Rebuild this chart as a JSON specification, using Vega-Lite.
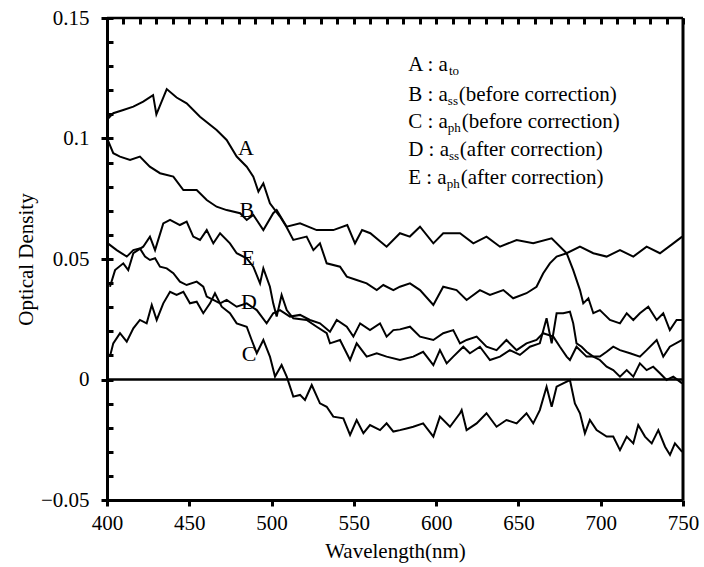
{
  "$schema": "https://vega.github.io/schema/vega-lite/v6.json",
  "width": 576,
  "height": 482,
  "autosize": {"type": "none"},
  "padding": {"left": 107, "top": 18, "right": 21, "bottom": 67},
  "background": "white",
  "datasets": {
    "curves": [
      {"series": "A", "wl": 400, "od": 0.1077}, {"series": "A", "wl": 403.8, "od": 0.1105}, {"series": "A", "wl": 409.9, "od": 0.1118}, {"series": "A", "wl": 416, "od": 0.1132}, {"series": "A", "wl": 422, "od": 0.1153}, {"series": "A", "wl": 428, "od": 0.118}, {"series": "A", "wl": 430, "od": 0.110}, {"series": "A", "wl": 436.3, "od": 0.1205}, {"series": "A", "wl": 442.3, "od": 0.117}, {"series": "A", "wl": 448.4, "od": 0.1146}, {"series": "A", "wl": 456.5, "od": 0.109}, {"series": "A", "wl": 466.6, "od": 0.1035}, {"series": "A", "wl": 472.7, "od": 0.0994}, {"series": "A", "wl": 478.8, "od": 0.0925}, {"series": "A", "wl": 484.9, "od": 0.0883}, {"series": "A", "wl": 488.9, "od": 0.0842}, {"series": "A", "wl": 492, "od": 0.078}, {"series": "A", "wl": 495, "od": 0.0814}, {"series": "A", "wl": 499, "od": 0.0731}, {"series": "A", "wl": 505.1, "od": 0.0676}, {"series": "A", "wl": 509, "od": 0.0634}, {"series": "A", "wl": 513.2, "od": 0.0579}, {"series": "A", "wl": 521.3, "od": 0.0593}, {"series": "A", "wl": 525.4, "od": 0.0537}, {"series": "A", "wl": 529.4, "od": 0.0565}, {"series": "A", "wl": 533.5, "od": 0.0482}, {"series": "A", "wl": 541.6, "od": 0.0468}, {"series": "A", "wl": 545.7, "od": 0.0427}, {"series": "A", "wl": 551.7, "od": 0.0413}, {"series": "A", "wl": 557.8, "od": 0.0399}, {"series": "A", "wl": 563.9, "od": 0.0371}, {"series": "A", "wl": 567.9, "od": 0.0392}, {"series": "A", "wl": 574, "od": 0.0371}, {"series": "A", "wl": 578, "od": 0.0385}, {"series": "A", "wl": 584.1, "od": 0.0399}, {"series": "A", "wl": 590.2, "od": 0.0371}, {"series": "A", "wl": 598.3, "od": 0.0309}, {"series": "A", "wl": 604.3, "od": 0.0385}, {"series": "A", "wl": 612.4, "od": 0.0371}, {"series": "A", "wl": 618.5, "od": 0.033}, {"series": "A", "wl": 626.6, "od": 0.0371}, {"series": "A", "wl": 632.7, "od": 0.0351}, {"series": "A", "wl": 640.8, "od": 0.0371}, {"series": "A", "wl": 646.8, "od": 0.0337}, {"series": "A", "wl": 654.9, "od": 0.0358}, {"series": "A", "wl": 661, "od": 0.0385}, {"series": "A", "wl": 665, "od": 0.044}, {"series": "A", "wl": 669.1, "od": 0.0482}, {"series": "A", "wl": 673.2, "od": 0.051}, {"series": "A", "wl": 679.3, "od": 0.0524}, {"series": "A", "wl": 683.3, "od": 0.0454}, {"series": "A", "wl": 687.4, "od": 0.0371}, {"series": "A", "wl": 689.4, "od": 0.0316}, {"series": "A", "wl": 692.5, "od": 0.0337}, {"series": "A", "wl": 695.5, "od": 0.0275}, {"series": "A", "wl": 699.5, "od": 0.0288}, {"series": "A", "wl": 705.6, "od": 0.0247}, {"series": "A", "wl": 711.7, "od": 0.0233}, {"series": "A", "wl": 715.8, "od": 0.0275}, {"series": "A", "wl": 719.8, "od": 0.0247}, {"series": "A", "wl": 723.8, "od": 0.0275}, {"series": "A", "wl": 728.9, "od": 0.0302}, {"series": "A", "wl": 734, "od": 0.0247}, {"series": "A", "wl": 738, "od": 0.0275}, {"series": "A", "wl": 742, "od": 0.0205}, {"series": "A", "wl": 746.1, "od": 0.0247}, {"series": "A", "wl": 749.5, "od": 0.0247},

      {"series": "B", "wl": 400, "od": 0.1001}, {"series": "B", "wl": 403.8, "od": 0.0939}, {"series": "B", "wl": 407.9, "od": 0.0925}, {"series": "B", "wl": 414, "od": 0.0911}, {"series": "B", "wl": 420, "od": 0.0925}, {"series": "B", "wl": 426, "od": 0.0883}, {"series": "B", "wl": 432.2, "od": 0.0856}, {"series": "B", "wl": 440.3, "od": 0.0842}, {"series": "B", "wl": 446.4, "od": 0.0786}, {"series": "B", "wl": 454.5, "od": 0.0786}, {"series": "B", "wl": 460.6, "od": 0.0745}, {"series": "B", "wl": 466.6, "od": 0.0717}, {"series": "B", "wl": 472.7, "od": 0.0703}, {"series": "B", "wl": 480.9, "od": 0.069}, {"series": "B", "wl": 484.9, "od": 0.0662}, {"series": "B", "wl": 488.9, "od": 0.0683}, {"series": "B", "wl": 495, "od": 0.062}, {"series": "B", "wl": 501, "od": 0.069}, {"series": "B", "wl": 503.1, "od": 0.0703}, {"series": "B", "wl": 509.2, "od": 0.0634}, {"series": "B", "wl": 517.3, "od": 0.0648}, {"series": "B", "wl": 527.4, "od": 0.062}, {"series": "B", "wl": 537.5, "od": 0.062}, {"series": "B", "wl": 546, "od": 0.0641}, {"series": "B", "wl": 550.7, "od": 0.0565}, {"series": "B", "wl": 555, "od": 0.062}, {"series": "B", "wl": 560, "od": 0.0607}, {"series": "B", "wl": 569.9, "od": 0.0551}, {"series": "B", "wl": 578, "od": 0.0607}, {"series": "B", "wl": 584, "od": 0.0593}, {"series": "B", "wl": 590.2, "od": 0.0634}, {"series": "B", "wl": 598.3, "od": 0.0565}, {"series": "B", "wl": 604.3, "od": 0.0607}, {"series": "B", "wl": 614.5, "od": 0.0607}, {"series": "B", "wl": 622.6, "od": 0.0565}, {"series": "B", "wl": 630.6, "od": 0.0593}, {"series": "B", "wl": 638.8, "od": 0.0551}, {"series": "B", "wl": 648.9, "od": 0.0579}, {"series": "B", "wl": 659, "od": 0.0565}, {"series": "B", "wl": 670.2, "od": 0.0586}, {"series": "B", "wl": 679.3, "od": 0.0524}, {"series": "B", "wl": 687.4, "od": 0.0551}, {"series": "B", "wl": 695.5, "od": 0.0524}, {"series": "B", "wl": 703.6, "od": 0.051}, {"series": "B", "wl": 711.7, "od": 0.0537}, {"series": "B", "wl": 719.8, "od": 0.051}, {"series": "B", "wl": 727.9, "od": 0.0551}, {"series": "B", "wl": 736, "od": 0.0524}, {"series": "B", "wl": 744.1, "od": 0.0565}, {"series": "B", "wl": 749.5, "od": 0.0593},

      {"series": "C", "wl": 401.8, "od": 0.0095}, {"series": "C", "wl": 403.8, "od": 0.015}, {"series": "C", "wl": 407.9, "od": 0.0192}, {"series": "C", "wl": 412, "od": 0.0157}, {"series": "C", "wl": 416, "od": 0.0212}, {"series": "C", "wl": 420, "od": 0.0247}, {"series": "C", "wl": 424.1, "od": 0.0233}, {"series": "C", "wl": 427.2, "od": 0.0309}, {"series": "C", "wl": 430.2, "od": 0.0247}, {"series": "C", "wl": 434.2, "od": 0.0316}, {"series": "C", "wl": 438.3, "od": 0.0364}, {"series": "C", "wl": 442.3, "od": 0.0351}, {"series": "C", "wl": 446.4, "od": 0.0364}, {"series": "C", "wl": 450.4, "od": 0.0316}, {"series": "C", "wl": 454.5, "od": 0.0323}, {"series": "C", "wl": 458.5, "od": 0.0275}, {"series": "C", "wl": 462.6, "od": 0.0316}, {"series": "C", "wl": 465.6, "od": 0.0358}, {"series": "C", "wl": 469.7, "od": 0.0302}, {"series": "C", "wl": 474.7, "od": 0.0275}, {"series": "C", "wl": 478.8, "od": 0.0233}, {"series": "C", "wl": 484.9, "od": 0.0219}, {"series": "C", "wl": 487.9, "od": 0.0164}, {"series": "C", "wl": 491, "od": 0.0109}, {"series": "C", "wl": 495, "od": 0.0164}, {"series": "C", "wl": 499, "od": 0.0095}, {"series": "C", "wl": 502.1, "od": 0.0012}, {"series": "C", "wl": 506.1, "od": 0.006}, {"series": "C", "wl": 509.2, "od": 0.0012}, {"series": "C", "wl": 513.2, "od": -0.0071}, {"series": "C", "wl": 517.3, "od": -0.0064}, {"series": "C", "wl": 520.3, "od": -0.0085}, {"series": "C", "wl": 524.4, "od": -0.0023}, {"series": "C", "wl": 529.4, "od": -0.0099}, {"series": "C", "wl": 533.5, "od": -0.0113}, {"series": "C", "wl": 537.5, "od": -0.0154}, {"series": "C", "wl": 543.6, "od": -0.0161}, {"series": "C", "wl": 547.7, "od": -0.023}, {"series": "C", "wl": 551.7, "od": -0.0168}, {"series": "C", "wl": 555.8, "od": -0.0223}, {"series": "C", "wl": 559.8, "od": -0.0189}, {"series": "C", "wl": 565.9, "od": -0.021}, {"series": "C", "wl": 569.9, "od": -0.0182}, {"series": "C", "wl": 574, "od": -0.0216}, {"series": "C", "wl": 578, "od": -0.021}, {"series": "C", "wl": 582.1, "od": -0.0203}, {"series": "C", "wl": 586.1, "od": -0.0196}, {"series": "C", "wl": 592.1, "od": -0.0182}, {"series": "C", "wl": 598.3, "od": -0.0237}, {"series": "C", "wl": 602.3, "od": -0.0154}, {"series": "C", "wl": 608.4, "od": -0.0196}, {"series": "C", "wl": 614.5, "od": -0.014}, {"series": "C", "wl": 615.5, "od": -0.0127}, {"series": "C", "wl": 618.5, "od": -0.021}, {"series": "C", "wl": 624.6, "od": -0.0182}, {"series": "C", "wl": 630.6, "od": -0.014}, {"series": "C", "wl": 636.7, "od": -0.0196}, {"series": "C", "wl": 642.7, "od": -0.0168}, {"series": "C", "wl": 648.9, "od": -0.0182}, {"series": "C", "wl": 654.9, "od": -0.014}, {"series": "C", "wl": 659, "od": -0.0182}, {"series": "C", "wl": 663, "od": -0.0127}, {"series": "C", "wl": 667.1, "od": -0.003}, {"series": "C", "wl": 670.2, "od": -0.0113}, {"series": "C", "wl": 673.2, "od": -0.003}, {"series": "C", "wl": 677.2, "od": -0.0016}, {"series": "C", "wl": 681.3, "od": -0.0002}, {"series": "C", "wl": 684.3, "od": -0.0099}, {"series": "C", "wl": 687.4, "od": -0.014}, {"series": "C", "wl": 690.4, "od": -0.0223}, {"series": "C", "wl": 693.4, "od": -0.0168}, {"series": "C", "wl": 697.5, "od": -0.021}, {"series": "C", "wl": 703.6, "od": -0.0237}, {"series": "C", "wl": 707.6, "od": -0.0237}, {"series": "C", "wl": 711.7, "od": -0.0293}, {"series": "C", "wl": 715.8, "od": -0.0237}, {"series": "C", "wl": 719.8, "od": -0.0265}, {"series": "C", "wl": 722.8, "od": -0.0189}, {"series": "C", "wl": 726.9, "od": -0.0237}, {"series": "C", "wl": 731, "od": -0.0265}, {"series": "C", "wl": 735, "od": -0.021}, {"series": "C", "wl": 739.1, "od": -0.0279}, {"series": "C", "wl": 742.1, "od": -0.0313}, {"series": "C", "wl": 745.1, "od": -0.0265}, {"series": "C", "wl": 749.5, "od": -0.03},

      {"series": "D", "wl": 400.5, "od": 0.0565}, {"series": "D", "wl": 405.9, "od": 0.0537}, {"series": "D", "wl": 412, "od": 0.051}, {"series": "D", "wl": 416, "od": 0.0537}, {"series": "D", "wl": 420, "od": 0.0544}, {"series": "D", "wl": 423.1, "od": 0.051}, {"series": "D", "wl": 426.1, "od": 0.0496}, {"series": "D", "wl": 429.2, "od": 0.0503}, {"series": "D", "wl": 432.2, "od": 0.0468}, {"series": "D", "wl": 436.3, "od": 0.0461}, {"series": "D", "wl": 440.3, "od": 0.0441}, {"series": "D", "wl": 444.3, "od": 0.0406}, {"series": "D", "wl": 448.4, "od": 0.0392}, {"series": "D", "wl": 454.5, "od": 0.0406}, {"series": "D", "wl": 458.5, "od": 0.0385}, {"series": "D", "wl": 460.6, "od": 0.0344}, {"series": "D", "wl": 464.6, "od": 0.033}, {"series": "D", "wl": 468.7, "od": 0.0316}, {"series": "D", "wl": 472.7, "od": 0.033}, {"series": "D", "wl": 478.8, "od": 0.0302}, {"series": "D", "wl": 484.9, "od": 0.0316}, {"series": "D", "wl": 491, "od": 0.0288}, {"series": "D", "wl": 497, "od": 0.0233}, {"series": "D", "wl": 501, "od": 0.0275}, {"series": "D", "wl": 505.1, "od": 0.0288}, {"series": "D", "wl": 511.2, "od": 0.0261}, {"series": "D", "wl": 517.3, "od": 0.0268}, {"series": "D", "wl": 523.3, "od": 0.0247}, {"series": "D", "wl": 529.4, "od": 0.0233}, {"series": "D", "wl": 535.5, "od": 0.0198}, {"series": "D", "wl": 539.6, "od": 0.0247}, {"series": "D", "wl": 545.7, "od": 0.0219}, {"series": "D", "wl": 549.7, "od": 0.0178}, {"series": "D", "wl": 553.8, "od": 0.0233}, {"series": "D", "wl": 559.8, "od": 0.0205}, {"series": "D", "wl": 565.9, "od": 0.0233}, {"series": "D", "wl": 569.9, "od": 0.0178}, {"series": "D", "wl": 574, "od": 0.0205}, {"series": "D", "wl": 578, "od": 0.0208}, {"series": "D", "wl": 584.1, "od": 0.0219}, {"series": "D", "wl": 590.2, "od": 0.0178}, {"series": "D", "wl": 598.3, "od": 0.0164}, {"series": "D", "wl": 604.3, "od": 0.0192}, {"series": "D", "wl": 610.4, "od": 0.0205}, {"series": "D", "wl": 614.5, "od": 0.015}, {"series": "D", "wl": 618.5, "od": 0.0164}, {"series": "D", "wl": 624.6, "od": 0.0178}, {"series": "D", "wl": 630.6, "od": 0.0136}, {"series": "D", "wl": 636.7, "od": 0.0122}, {"series": "D", "wl": 642.7, "od": 0.0164}, {"series": "D", "wl": 648.9, "od": 0.0122}, {"series": "D", "wl": 654.9, "od": 0.015}, {"series": "D", "wl": 661, "od": 0.0164}, {"series": "D", "wl": 665, "od": 0.0192}, {"series": "D", "wl": 671.2, "od": 0.0178}, {"series": "D", "wl": 675.2, "od": 0.0136}, {"series": "D", "wl": 679.3, "od": 0.0095}, {"series": "D", "wl": 681.3, "od": 0.0081}, {"series": "D", "wl": 685.3, "od": 0.0136}, {"series": "D", "wl": 691.4, "od": 0.0095}, {"series": "D", "wl": 699.5, "od": 0.0095}, {"series": "D", "wl": 703.6, "od": 0.0115}, {"series": "D", "wl": 707.6, "od": 0.0136}, {"series": "D", "wl": 711.7, "od": 0.0122}, {"series": "D", "wl": 717.8, "od": 0.0109}, {"series": "D", "wl": 723.8, "od": 0.0095}, {"series": "D", "wl": 727.9, "od": 0.0122}, {"series": "D", "wl": 734, "od": 0.0164}, {"series": "D", "wl": 738, "od": 0.0095}, {"series": "D", "wl": 742, "od": 0.0136}, {"series": "D", "wl": 749.5, "od": 0.0164},

      {"series": "E", "wl": 401.8, "od": 0.0385}, {"series": "E", "wl": 404.9, "od": 0.0454}, {"series": "E", "wl": 409.9, "od": 0.0482}, {"series": "E", "wl": 412.9, "od": 0.0454}, {"series": "E", "wl": 416, "od": 0.0524}, {"series": "E", "wl": 422, "od": 0.0551}, {"series": "E", "wl": 426.1, "od": 0.0593}, {"series": "E", "wl": 429.2, "od": 0.0537}, {"series": "E", "wl": 434.2, "od": 0.0648}, {"series": "E", "wl": 438.3, "od": 0.0662}, {"series": "E", "wl": 444.3, "od": 0.0641}, {"series": "E", "wl": 448.4, "od": 0.0655}, {"series": "E", "wl": 452.4, "od": 0.0593}, {"series": "E", "wl": 456.5, "od": 0.0579}, {"series": "E", "wl": 460.6, "od": 0.062}, {"series": "E", "wl": 464.6, "od": 0.0565}, {"series": "E", "wl": 468.7, "od": 0.0607}, {"series": "E", "wl": 474.7, "od": 0.0565}, {"series": "E", "wl": 478.8, "od": 0.0524}, {"series": "E", "wl": 484.9, "od": 0.0503}, {"series": "E", "wl": 488.9, "od": 0.0468}, {"series": "E", "wl": 493, "od": 0.0399}, {"series": "E", "wl": 495, "od": 0.0461}, {"series": "E", "wl": 499, "od": 0.0385}, {"series": "E", "wl": 501, "od": 0.0316}, {"series": "E", "wl": 503.1, "od": 0.0261}, {"series": "E", "wl": 506.1, "od": 0.0351}, {"series": "E", "wl": 509.2, "od": 0.0288}, {"series": "E", "wl": 513.2, "od": 0.0254}, {"series": "E", "wl": 521.3, "od": 0.0247}, {"series": "E", "wl": 527.4, "od": 0.0219}, {"series": "E", "wl": 533.5, "od": 0.0192}, {"series": "E", "wl": 535.5, "od": 0.015}, {"series": "E", "wl": 541.6, "od": 0.0164}, {"series": "E", "wl": 547.7, "od": 0.0081}, {"series": "E", "wl": 551.7, "od": 0.015}, {"series": "E", "wl": 557.8, "od": 0.0095}, {"series": "E", "wl": 563.9, "od": 0.0109}, {"series": "E", "wl": 569.9, "od": 0.0095}, {"series": "E", "wl": 578, "od": 0.0081}, {"series": "E", "wl": 586.1, "od": 0.0095}, {"series": "E", "wl": 592.1, "od": 0.0115}, {"series": "E", "wl": 598.3, "od": 0.006}, {"series": "E", "wl": 602.3, "od": 0.0122}, {"series": "E", "wl": 606.4, "od": 0.0067}, {"series": "E", "wl": 610.4, "od": 0.0095}, {"series": "E", "wl": 616.5, "od": 0.0136}, {"series": "E", "wl": 620.5, "od": 0.0109}, {"series": "E", "wl": 626.6, "od": 0.0136}, {"series": "E", "wl": 632.7, "od": 0.0081}, {"series": "E", "wl": 638.8, "od": 0.0095}, {"series": "E", "wl": 644.8, "od": 0.0122}, {"series": "E", "wl": 650.9, "od": 0.0102}, {"series": "E", "wl": 657, "od": 0.0136}, {"series": "E", "wl": 663, "od": 0.015}, {"series": "E", "wl": 667.1, "od": 0.0254}, {"series": "E", "wl": 670.2, "od": 0.015}, {"series": "E", "wl": 673.2, "od": 0.0275}, {"series": "E", "wl": 677.2, "od": 0.0275}, {"series": "E", "wl": 681.3, "od": 0.0281}, {"series": "E", "wl": 683.3, "od": 0.0233}, {"series": "E", "wl": 685.3, "od": 0.015}, {"series": "E", "wl": 688.4, "od": 0.0136}, {"series": "E", "wl": 691.4, "od": 0.0115}, {"series": "E", "wl": 695.5, "od": 0.0095}, {"series": "E", "wl": 699.5, "od": 0.0081}, {"series": "E", "wl": 703.6, "od": 0.0053}, {"series": "E", "wl": 707.6, "od": 0.0039}, {"series": "E", "wl": 711.7, "od": 0.0012}, {"series": "E", "wl": 715.8, "od": 0.0039}, {"series": "E", "wl": 719.8, "od": 0.0012}, {"series": "E", "wl": 723.8, "od": 0.0067}, {"series": "E", "wl": 727.9, "od": 0.0039}, {"series": "E", "wl": 731.9, "od": 0.0053}, {"series": "E", "wl": 736, "od": 0.0026}, {"series": "E", "wl": 740, "od": -0.0002}, {"series": "E", "wl": 744.1, "od": 0.0012}, {"series": "E", "wl": 749.5, "od": -0.0016}
    ],
    "labels": [
      {"label": "A", "wl": 484.4, "od": 0.0962},
      {"label": "B", "wl": 484.9, "od": 0.0703},
      {"label": "C", "wl": 486.3, "od": 0.0106},
      {"label": "D", "wl": 486.3, "od": 0.0323},
      {"label": "E", "wl": 485.8, "od": 0.0506}
    ],
    "hlines": [{"od": 0}, {"od": 0.15}],
    "vlines": [{"wl": 750}],
    "legend": [
      {"t": "A : a", "wl": 583, "od": 0.1305, "part": "main"},
      {"t": "B : a", "wl": 583, "od": 0.118, "part": "main"},
      {"t": "C : a", "wl": 583, "od": 0.107, "part": "main"},
      {"t": "D : a", "wl": 583, "od": 0.0952, "part": "main"},
      {"t": "E : a", "wl": 583, "od": 0.0836, "part": "main"},
      {"t": "to", "wl": 607.8, "od": 0.1305, "part": "sub"},
      {"t": "ss", "wl": 607.1, "od": 0.118, "part": "sub"},
      {"t": "ph", "wl": 607.1, "od": 0.107, "part": "sub"},
      {"t": "ss", "wl": 607.8, "od": 0.0952, "part": "sub"},
      {"t": "ph", "wl": 606.4, "od": 0.0836, "part": "sub"},
      {"t": "(before correction)", "wl": 613.7, "od": 0.118, "part": "main"},
      {"t": "(before correction)", "wl": 615.6, "od": 0.107, "part": "main"},
      {"t": "(after correction)", "wl": 614.4, "od": 0.0952, "part": "main"},
      {"t": "(after correction)", "wl": 614.9, "od": 0.0836, "part": "main"}
    ]
  },
  "layer": [
    {
      "data": {"name": "curves"},
      "mark": {"type": "line", "color": "black", "strokeWidth": 2, "clip": true},
      "encoding": {
        "x": {"field": "wl", "type": "quantitative", "scale": {"domain": [400, 750], "nice": false, "zero": false},
          "axis": {"orient": "bottom", "values": [400, 450, 500, 550, 600, 650, 700, 750], "format": "d",
            "labelFont": "Liberation Serif", "labelFontSize": 21, "labelColor": "black", "labelOverlap": false, "labelFlush": false, "labelBound": false,
            "title": "Wavelength(nm)", "titleFont": "Liberation Serif", "titleFontSize": 21, "titleFontWeight": "normal", "titleColor": "black", "titlePadding": 7, "labelPadding": 6,
            "grid": false, "domainColor": "black", "domainWidth": 3, "ticks": true, "tickColor": "black", "tickWidth": 3, "tickSize": 6}},
        "y": {"field": "od", "type": "quantitative", "scale": {"domain": [-0.05, 0.15], "nice": false, "zero": false},
          "axis": {"orient": "left", "values": [-0.05, 0, 0.05, 0.1, 0.15], "format": ".2~f",
            "labelFont": "Liberation Serif", "labelFontSize": 21, "labelColor": "black", "labelOverlap": false, "labelFlush": false, "labelBound": false,
            "title": "Optical Density", "titleFont": "Liberation Serif", "titleFontSize": 21, "titleFontWeight": "normal", "titleColor": "black", "titlePadding": 4, "labelPadding": 12,
            "grid": false, "domainColor": "black", "domainWidth": 3, "ticks": true, "tickColor": "black", "tickWidth": 3, "tickSize": 6}},
        "detail": {"field": "series"}
      }
    },
    {
      "data": {"name": "labels"},
      "mark": {"type": "text", "font": "Liberation Serif", "fontSize": 22, "color": "black", "align": "center", "baseline": "middle"},
      "encoding": {
        "x": {"field": "wl", "type": "quantitative",
          "axis": {"orient": "bottom", "values": [400, 410, 420, 430, 440, 450, 460, 470, 480, 490, 500, 510, 520, 530, 540, 550, 560, 570, 580, 590, 600, 610, 620, 630, 640, 650, 660, 670, 680, 690, 700, 710, 720, 730, 740, 750], "labels": false, "domain": false, "ticks": false, "title": null, "grid": true, "gridColor": "black", "gridOpacity": 1, "gridWidth": 3, "gridDash": [6, 2000]}},
        "y": {"field": "od", "type": "quantitative",
          "axis": {"orient": "left", "values": [-0.05, -0.04, -0.03, -0.02, -0.01, 0, 0.01, 0.02, 0.03, 0.04, 0.05, 0.06, 0.07, 0.08, 0.09, 0.1, 0.11, 0.12, 0.13, 0.14, 0.15], "labels": false, "domain": false, "ticks": false, "title": null, "grid": true, "gridColor": "black", "gridOpacity": 1, "gridWidth": 3, "gridDash": [6, 2000]}},
        "text": {"field": "label"}
      }
    },
    {
      "data": {"name": "hlines"},
      "mark": {"type": "rule", "color": "black", "strokeWidth": 2.5},
      "encoding": {"y": {"field": "od", "type": "quantitative", "axis": null}}
    },
    {
      "data": {"name": "vlines"},
      "mark": {"type": "rule", "color": "black", "strokeWidth": 3},
      "encoding": {"x": {"field": "wl", "type": "quantitative", "axis": null}}
    },
    {
      "data": {"name": "legend"},
      "transform": [{"filter": "datum.part === 'main'"}],
      "mark": {"type": "text", "font": "Liberation Serif", "fontSize": 21, "color": "black", "align": "left", "baseline": "middle"},
      "encoding": {
        "x": {"field": "wl", "type": "quantitative", "axis": null},
        "y": {"field": "od", "type": "quantitative", "axis": null},
        "text": {"field": "t"}
      }
    },
    {
      "data": {"name": "legend"},
      "transform": [{"filter": "datum.part === 'sub'"}],
      "mark": {"type": "text", "font": "Liberation Serif", "fontSize": 13, "color": "black", "align": "left", "baseline": "middle", "dy": 6},
      "encoding": {
        "x": {"field": "wl", "type": "quantitative", "axis": null},
        "y": {"field": "od", "type": "quantitative", "axis": null},
        "text": {"field": "t"}
      }
    }
  ],
  "resolve": {"axis": {"x": "independent", "y": "independent"}}
}
